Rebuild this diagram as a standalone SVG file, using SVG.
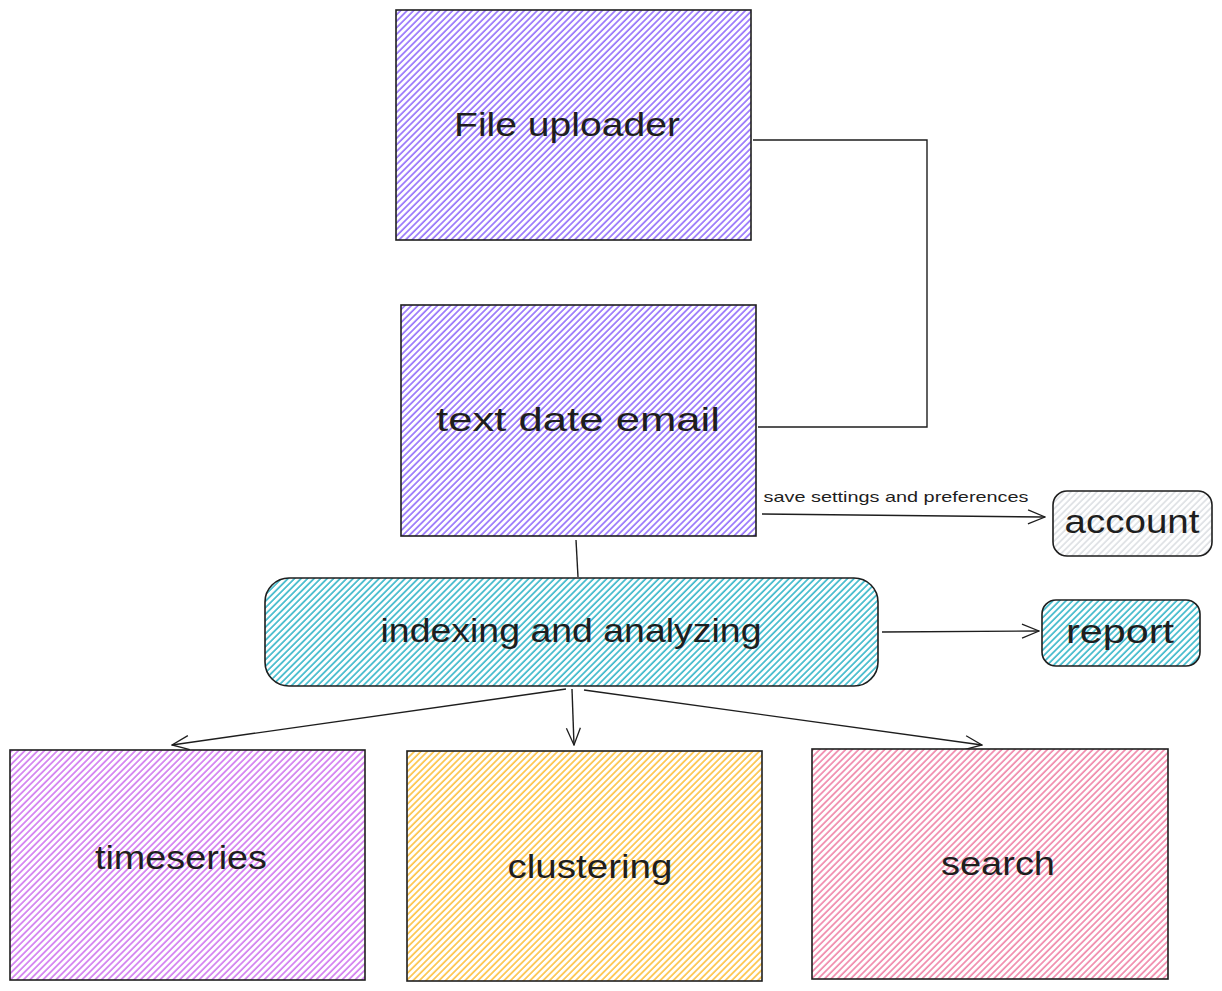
<svg xmlns="http://www.w3.org/2000/svg" width="1222" height="991" viewBox="0 0 1222 991">
<defs>
<pattern id="hPurple" width="4.6" height="10" patternUnits="userSpaceOnUse" patternTransform="rotate(45)"><rect width="4.6" height="10" fill="#ffffff"/><line x1="1" y1="0" x2="1" y2="10" stroke="#9775fa" stroke-width="1.7"/></pattern>
<pattern id="hViolet" width="4.6" height="10" patternUnits="userSpaceOnUse" patternTransform="rotate(45)"><rect width="4.6" height="10" fill="#ffffff"/><line x1="1" y1="0" x2="1" y2="10" stroke="#d27ef0" stroke-width="1.7"/></pattern>
<pattern id="hYellow" width="4.6" height="10" patternUnits="userSpaceOnUse" patternTransform="rotate(45)"><rect width="4.6" height="10" fill="#ffffff"/><line x1="1" y1="0" x2="1" y2="10" stroke="#fcc44a" stroke-width="1.7"/></pattern>
<pattern id="hPink" width="4.6" height="10" patternUnits="userSpaceOnUse" patternTransform="rotate(45)"><rect width="4.6" height="10" fill="#ffffff"/><line x1="1" y1="0" x2="1" y2="10" stroke="#f08aac" stroke-width="1.7"/></pattern>
<pattern id="hCyan" width="4.6" height="10" patternUnits="userSpaceOnUse" patternTransform="rotate(45)"><rect width="4.6" height="10" fill="#ffffff"/><line x1="1" y1="0" x2="1" y2="10" stroke="#3fb9cb" stroke-width="1.7"/></pattern>
<pattern id="hGray" width="4.6" height="10" patternUnits="userSpaceOnUse" patternTransform="rotate(45)"><rect width="4.6" height="10" fill="#ffffff"/><line x1="1" y1="0" x2="1" y2="10" stroke="#dadde1" stroke-width="1.5"/></pattern>
<marker id="arr" viewBox="0 0 20 20" refX="19" refY="10" markerWidth="20" markerHeight="20" markerUnits="userSpaceOnUse" orient="auto"><path d="M2,3 L19,10 L2,17" fill="none" stroke="#1e1e1e" stroke-width="1.3"/></marker>
</defs>
<style>
.box{stroke:#1e1e1e;stroke-width:1.6;}
.lbl{font-family:"Liberation Sans","DejaVu Sans",sans-serif;fill:#1e1e1e;text-anchor:middle;dominant-baseline:central;}
.con{fill:none;stroke:#1e1e1e;stroke-width:1.4;}
</style>
<rect width="1222" height="991" fill="#ffffff"/>
<g id="connectors">
<polyline class="con" points="753,140 927,140 927,427 758,427"/>
<line class="con" x1="762" y1="514" x2="1045" y2="517" marker-end="url(#arr)"/>
<text class="lbl" x="896" y="496" font-size="15" textLength="265" lengthAdjust="spacingAndGlyphs">save settings and preferences</text>
<line class="con" x1="576" y1="540" x2="578" y2="577"/>
<line class="con" x1="882" y1="632" x2="1039" y2="631" marker-end="url(#arr)"/>
<line class="con" x1="566" y1="689" x2="172" y2="745" marker-end="url(#arr)"/>
<line class="con" x1="572" y1="689" x2="574" y2="745" marker-end="url(#arr)"/>
<line class="con" x1="584" y1="690" x2="982" y2="745" marker-end="url(#arr)"/>
</g>
<g id="file-uploader">
<rect class="box" x="396" y="10" width="355" height="230" fill="url(#hPurple)"/>
<text class="lbl" x="567" y="124" font-size="34" textLength="226" lengthAdjust="spacingAndGlyphs">File uploader</text>
</g>
<g id="text-date-email">
<rect class="box" x="401" y="305" width="355" height="231" fill="url(#hPurple)"/>
<text class="lbl" x="578" y="419" font-size="34" textLength="284" lengthAdjust="spacingAndGlyphs">text date email</text>
</g>
<g id="account">
<rect class="box" x="1053" y="491" width="159" height="65" rx="14" fill="url(#hGray)"/>
<text class="lbl" x="1132" y="521" font-size="34" textLength="135" lengthAdjust="spacingAndGlyphs">account</text>
</g>
<g id="indexing">
<rect class="box" x="265" y="578" width="613" height="108" rx="24" fill="url(#hCyan)"/>
<text class="lbl" x="571" y="630" font-size="34" textLength="381" lengthAdjust="spacingAndGlyphs">indexing and analyzing</text>
</g>
<g id="report">
<rect class="box" x="1042" y="600" width="158" height="66" rx="14" fill="url(#hCyan)"/>
<text class="lbl" x="1120" y="631" font-size="34" textLength="108" lengthAdjust="spacingAndGlyphs">report</text>
</g>
<g id="timeseries">
<rect class="box" x="10" y="750" width="355" height="230" fill="url(#hViolet)"/>
<text class="lbl" x="181" y="857" font-size="34" textLength="172" lengthAdjust="spacingAndGlyphs">timeseries</text>
</g>
<g id="clustering">
<rect class="box" x="407" y="751" width="355" height="230" fill="url(#hYellow)"/>
<text class="lbl" x="590" y="866" font-size="34" textLength="165" lengthAdjust="spacingAndGlyphs">clustering</text>
</g>
<g id="search">
<rect class="box" x="812" y="749" width="356" height="230" fill="url(#hPink)"/>
<text class="lbl" x="998" y="863" font-size="34" textLength="114" lengthAdjust="spacingAndGlyphs">search</text>
</g>
</svg>
